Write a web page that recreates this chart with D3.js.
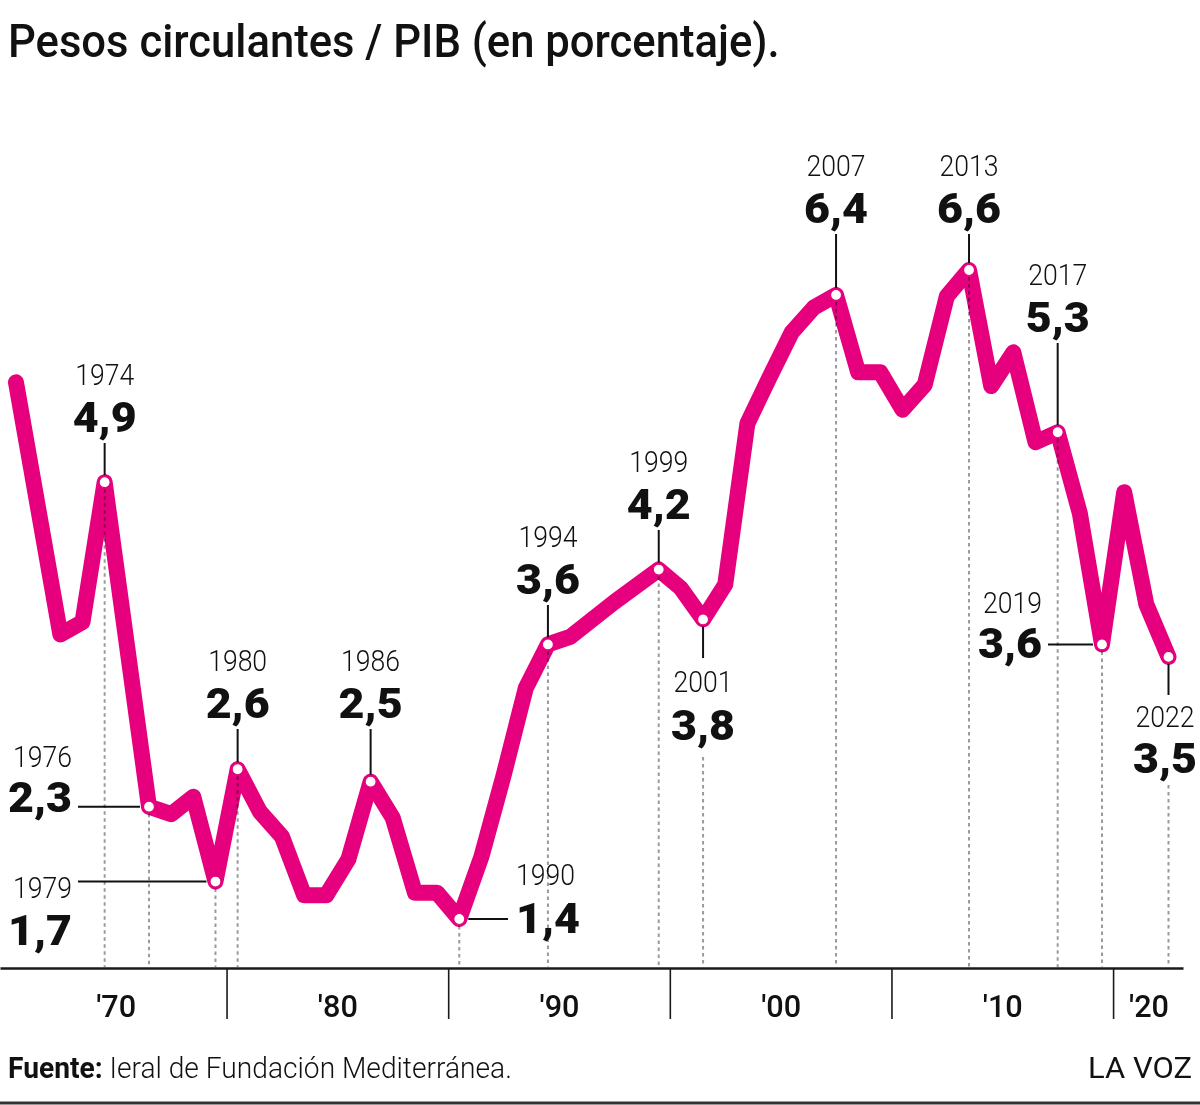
<!DOCTYPE html>
<html><head><meta charset="utf-8">
<script src="https://cdn.jsdelivr.net/npm/d3@7"></script>
<style>
html,body{margin:0;padding:0;background:#fff;}
svg{display:block;}
text{font-family:Roboto,"Noto Sans","Liberation Sans",sans-serif;fill:#111;}
</style></head><body>
<script>
// ---------- data ----------
const years = [1970,1971,1972,1973,1974,1975,1976,1977,1978,1979,
               1980,1981,1982,1983,1984,1985,1986,1987,1988,1989,
               1990,1991,1992,1993,1994,1995,1996,1997,1998,1999,
               2000,2001,2002,2003,2004,2005,2006,2007,2008,2009,
               2010,2011,2012,2013,2014,2015,2016,2017,2018,2019,
               2020,2021,2022];
const values = [5.70,4.69,3.68,3.78,4.90,3.60,2.30,2.24,2.38,1.70,
                2.60,2.26,2.06,1.59,1.59,1.88,2.50,2.21,1.61,1.61,
                1.40,1.90,2.55,3.25,3.60,3.66,3.80,3.94,4.07,4.20,
                4.05,3.80,4.08,5.37,5.74,6.10,6.30,6.40,5.78,5.78,
                5.48,5.68,6.39,6.60,5.67,5.94,5.22,5.30,4.65,3.60,
                4.82,3.92,3.50];
const annotatedYears  = [1974,1976,1979,1980,1986,1990,1994,1999,2001,2007,2013,2017,2019,2022];
const annotatedValues = [4.9,2.3,1.7,2.6,2.5,1.4,3.6,4.2,3.8,6.4,6.6,5.3,3.6,3.5];
const decadeLabels     = ["'70","'80","'90","'00","'10","'20"];
const decadeLabelYears = [1974.5,1984.5,1994.5,2004.5,2014.5,2021.1];
const decadeBreaks     = [1979.5,1989.5,1999.5,2009.5,2019.5];
const titleText  = "Pesos circulantes / PIB (en porcentaje).";
const sourceHead = "Fuente:";
const sourceBody = " Ieral de Fundación Mediterránea.";
const brandText  = "LA VOZ";

// ---------- layout ----------
const W = 1200, H = 1105, axisY = 968;
const PINK = "#e6007e";
const annLayout = {
  1974:{type:"top", vb:432},
  1976:{type:"left", ax:72, yb:767, vb:812},
  1979:{type:"left", ax:72, yb:898, vb:945},
  1980:{type:"top", vb:718},
  1986:{type:"top", vb:718, noDrop:true},
  1990:{type:"right", ax:516, yb:885, vb:933},
  1994:{type:"top", vb:594},
  1999:{type:"top", vb:519},
  2001:{type:"bottom", yb:692, vb:740, leadEnd:658, dropStart:757},
  2007:{type:"top", vb:223},
  2013:{type:"top", vb:223},
  2017:{type:"top", vb:332},
  2019:{type:"left", ax:1042, yb:613, vb:658},
  2022:{type:"bottom", ax:1165, yb:727, vb:773, leadEnd:695, dropStart:785}
};

const svg = d3.select("body").append("svg").attr("width", W).attr("height", H);
const x = d3.scaleLinear().domain([1970, 2022]).range([16, 1168.5]);
const y = d3.scaleLinear().domain([1.4, 6.6]).range([919, 270]);
const series = years.map((yr, i) => ({year: yr, value: values[i]}));
const fmt = v => d3.format(".1f")(v).replace(".", ",");

function measure(str, size, weight) {
  const t = svg.append("text").attr("font-size", size).attr("font-weight", weight).text(str);
  const w = t.node().getComputedTextLength();
  t.remove();
  return w;
}
const YEAR_SIZE = 29, VAL_SIZE = 43;
const yearScale = 59 / measure("1974", YEAR_SIZE, 300);
const valScale  = 64 / measure("4,9", VAL_SIZE, 900);

// ---------- title ----------
const title = svg.append("text").attr("font-size", 46).attr("font-weight", 500)
  .attr("transform", "translate(8,57)").text(titleText);
const tw = title.node().getComputedTextLength();
title.attr("transform", `translate(8,57) scale(${772 / tw},1)`);

// ---------- axis ----------
const axisScale = x.copy().domain([x.invert(0), x.invert(1183)]).range([0, 1183]);

const gDrop = svg.append("g");
svg.append("path").datum(series)
  .attr("fill", "none").attr("stroke", PINK).attr("stroke-width", 16)
  .attr("stroke-linejoin", "round").attr("stroke-linecap", "round")
  .attr("d", d3.line().x(d => x(d.year)).y(d => y(d.value)));

const gAxis = svg.append("g").attr("transform", `translate(0,${axisY})`)
  .call(d3.axisBottom(axisScale).tickValues(decadeBreaks).tickSize(51).tickSizeOuter(0).tickFormat(""));
gAxis.select(".domain").attr("stroke", "#1a1a1a").attr("stroke-width", 2.6);
gAxis.selectAll(".tick line").attr("stroke", "#1a1a1a").attr("stroke-width", 1.6);

const gLab = svg.append("g").attr("transform", `translate(0,${axisY})`)
  .call(d3.axisBottom(axisScale).tickValues(decadeLabelYears).tickSize(0)
        .tickFormat((d, i) => decadeLabels[i]));
gLab.select(".domain").remove();
const decScale = 40 / measure("'70", 31, 500);
gLab.selectAll(".tick text")
  .attr("font-family", "Roboto, 'Noto Sans', sans-serif")
  .attr("font-size", 31).attr("font-weight", 500).attr("fill", "#111")
  .attr("y", 49).attr("dy", 0)
  .attr("transform", `scale(${decScale},1)`);

// ---------- annotations ----------
const gLead = svg.append("g");
const gDots = svg.append("g");
const gText = svg.append("g");

function addText(str, xx, yy, anchor, kind) {
  const size = kind === "year" ? YEAR_SIZE : VAL_SIZE;
  const weight = kind === "year" ? 300 : 900;
  const s = kind === "year" ? yearScale : valScale;
  gText.append("text").attr("font-size", size).attr("font-weight", weight)
    .attr("text-anchor", anchor)
    .attr("transform", `translate(${xx},${yy}) scale(${s},1)`)
    .text(str);
}
function lead(x1, y1, x2, y2) {
  gLead.append("line").attr("x1", x1).attr("y1", y1).attr("x2", x2).attr("y2", y2)
    .attr("stroke", "#111").attr("stroke-width", 2);
}
function drop(xx, y1) {
  gDrop.append("line").attr("x1", xx).attr("x2", xx).attr("y1", y1).attr("y2", axisY - 1)
    .attr("stroke", "#9a9a9a").attr("stroke-width", 2).attr("stroke-dasharray", "3.5,3.5")
    .style("mix-blend-mode", "multiply");
}

annotatedYears.forEach((yr, i) => {
  const L = annLayout[yr];
  const val = annotatedValues[i];
  const cx = x(yr), cy = y(val);
  const label = fmt(val);
  if (L.type === "top") {
    addText(String(yr), cx, L.vb - 47, "middle", "year");
    addText(label, cx, L.vb, "middle", "val");
    lead(cx, L.vb + 11, cx, cy - 7);
    if (!L.noDrop) drop(cx, cy + 7);
  } else if (L.type === "bottom") {
    const ax = L.ax !== undefined ? L.ax : cx;
    lead(cx, cy + 7, cx, L.leadEnd);
    addText(String(yr), ax, L.yb, "middle", "year");
    addText(label, ax, L.vb, "middle", "val");
    drop(cx, L.dropStart);
  } else if (L.type === "left") {
    addText(String(yr), L.ax, L.yb, "end", "year");
    addText(label, L.ax, L.vb, "end", "val");
    lead(L.ax + 6, cy, cx - 9, cy);
    drop(cx, cy + 7);
  } else if (L.type === "right") {
    addText(String(yr), L.ax, L.yb, "start", "year");
    addText(label, L.ax, L.vb, "start", "val");
    lead(cx + 9, cy, L.ax - 8, cy);
    drop(cx, cy + 7);
  }
  gDots.append("circle").attr("cx", cx).attr("cy", cy).attr("r", 5.5)
    .attr("fill", "#fff").attr("stroke", PINK).attr("stroke-width", 1.2);
});

svg.node().appendChild(gDrop.node());
svg.node().appendChild(gDots.node());

// ---------- footer ----------
const foot = svg.append("text").attr("font-size", 29).attr("transform", "translate(8,1078)");
foot.append("tspan").attr("font-weight", 700).text(sourceHead);
foot.append("tspan").attr("font-weight", 300).text(sourceBody);
const fw = foot.node().getComputedTextLength();
foot.attr("transform", `translate(8,1078) scale(${504 / fw},1)`);

const brand = svg.append("text").attr("font-size", 29).attr("font-weight", 400)
  .attr("text-anchor", "end").text(brandText);
const bw = brand.node().getComputedTextLength();
brand.attr("transform", `translate(1192,1078) scale(${104 / bw},1)`);

svg.append("line").attr("x1", 0).attr("x2", W).attr("y1", 1103).attr("y2", 1103)
  .attr("stroke", "#333").attr("stroke-width", 3);
</script>
</body></html>
